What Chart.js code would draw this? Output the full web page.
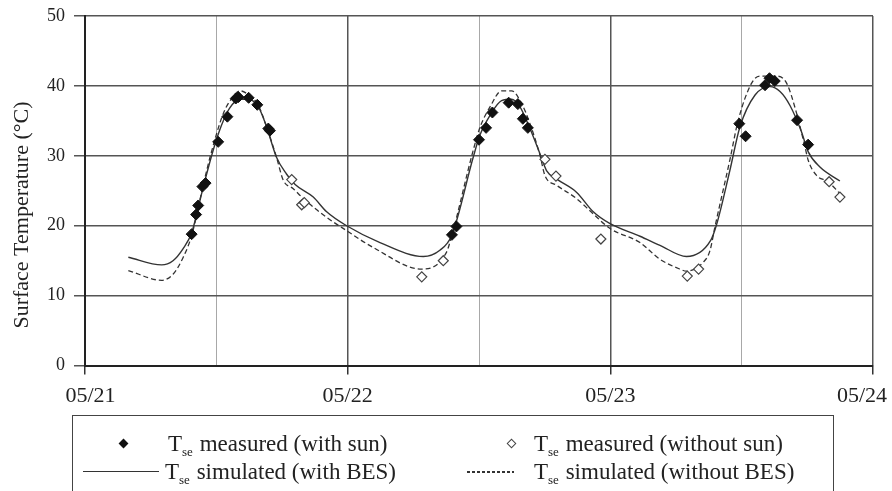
<!DOCTYPE html>
<html>
<head>
<meta charset="utf-8">
<script src="https://cdn.jsdelivr.net/npm/chart.js@4.4.1/dist/chart.umd.min.js"></script>
<style>
	html, body { margin: 0; padding: 0; background: #fff; overflow: hidden; }
	#wrap { position: relative; width: 892px; height: 491px; overflow: hidden; }
	#chart { position: absolute; left: 0; top: 0; }
	.legend { position: absolute; left: 72px; top: 415px; width: 762px; height: 120px; border: 1.5px solid #444; box-sizing: border-box; }
	.item { position: absolute; font-family: "Liberation Serif", "Times New Roman", serif; font-size: 23px; color: #222; white-space: nowrap; line-height: 22px; }
	.item sub { font-size: 13px; vertical-align: -5px; margin-right: 1px; }
	.mark { position: absolute; width: 7px; height: 7px; transform: rotate(45deg); box-sizing: border-box; }
	.solid { position: absolute; height: 0; border-top: 1.5px solid #333; }
	.dashed { position: absolute; height: 1.5px; background: repeating-linear-gradient(to right, #333 0 3px, transparent 3px 5px); }
</style>
</head>
<body>
<div id="wrap">
	<canvas id="chart" width="892" height="491"></canvas>
	<div class="legend">
		<div class="mark" style="left:47px; top:24px; background:#111;"></div>
		<div class="item" style="left:95px; top:17px;">T<sub>se</sub> measured (with sun)</div>
		<div class="mark" style="left:435px; top:24px; background:#fff; border:1px solid #444;"></div>
		<div class="item" style="left:461px; top:17px;">T<sub>se</sub> measured (without sun)</div>
		<div class="solid" style="left:10px; top:55px; width:76px;"></div>
		<div class="item" style="left:92px; top:45px;">T<sub>se</sub> simulated (with BES)</div>
		<div class="dashed" style="left:394px; top:55px; width:47px;"></div>
		<div class="item" style="left:461px; top:45px;">T<sub>se</sub> simulated (without BES)</div>
	</div>
</div>
<script>
// x values are days of May (21.5 = noon on 05/21)
const xTickLabels = ["05/21", "05/22", "05/23", "05/24"];
const yTitle = "Surface Temperature (\u00B0C)";

const sunX = [21.406, 21.423, 21.431, 21.447, 21.459, 21.507, 21.542, 21.574, 21.584, 21.623, 21.656, 21.698, 21.704,
	22.397, 22.414, 22.500, 22.527, 22.551, 22.613, 22.648, 22.667, 22.686,
	23.491, 23.515, 23.589, 23.606, 23.626, 23.711, 23.753];
const sunY = [18.8, 21.6, 22.9, 25.6, 26.1, 32.0, 35.6, 38.2, 38.4, 38.3, 37.3, 33.9, 33.6,
	18.7, 19.9, 32.3, 34.0, 36.2, 37.6, 37.4, 35.3, 34.0,
	34.6, 32.8, 40.1, 41.1, 40.7, 35.1, 31.6];

const shadeX = [21.787, 21.825, 21.835, 22.282, 22.364, 22.751, 22.793, 22.964, 23.293, 23.336, 23.833, 23.874];
const shadeY = [26.6, 23.0, 23.3, 12.7, 15.0, 29.5, 27.1, 18.1, 12.8, 13.8, 26.3, 24.1];

const besX = [21.165, 21.292, 21.335, 21.373, 21.406, 21.45, 21.488, 21.52, 21.55, 21.59, 21.62, 21.66, 21.69,
	21.729, 21.767, 21.80, 21.869, 21.92, 21.996, 22.123, 22.288, 22.351, 22.396, 22.478, 22.504, 22.542,
	22.586, 22.624, 22.656, 22.694, 22.732, 22.757, 22.795, 22.871, 22.935, 22.999, 23.113, 23.189, 23.29,
	23.382, 23.404, 23.455, 23.493, 23.551, 23.608, 23.646, 23.684, 23.728, 23.753, 23.798, 23.874];
const besY = [15.5, 14.4, 15.0, 16.7, 19.0, 25.5, 30.8, 34.4, 36.8, 38.1, 38.1, 37.0, 34.3,
	29.8, 27.4, 25.9, 24.1, 22.0, 20.0, 17.6, 15.6, 16.5, 18.6, 29.8, 33.0, 35.8,
	37.9, 38.1, 37.0, 33.9, 30.3, 27.9, 26.7, 24.8, 22.0, 20.3, 18.5, 17.2, 15.6,
	17.9, 20.1, 27.9, 34.1, 38.7, 39.9, 39.2, 37.2, 33.4, 30.6, 28.4, 26.4];

const noBesX = [21.165, 21.292, 21.336, 21.374, 21.406, 21.45, 21.476, 21.526, 21.56, 21.59, 21.62, 21.66, 21.69,
	21.729, 21.755, 21.793, 21.831, 21.92, 21.996, 22.097, 22.282, 22.376, 22.395, 22.478, 22.504, 22.542,
	22.586, 22.624, 22.662, 22.694, 22.732, 22.751, 22.795, 22.871, 22.935, 22.999, 23.113, 23.189, 23.265,
	23.29, 23.354, 23.379, 23.398, 23.455, 23.487, 23.538, 23.569, 23.633, 23.671, 23.709, 23.741, 23.753,
	23.785, 23.829, 23.874];
const noBesY = [13.6, 12.2, 13.1, 15.5, 18.6, 25.8, 29.8, 36.0, 38.3, 39.3, 38.8, 37.2, 34.3,
	29.8, 26.5, 25.3, 23.9, 21.2, 19.3, 16.9, 13.8, 16.2, 18.4, 30.8, 34.1, 37.0,
	39.3, 39.3, 37.5, 34.6, 30.1, 27.2, 25.8, 23.9, 21.7, 19.6, 17.6, 15.2, 13.8,
	13.5, 14.8, 16.4, 19.8, 29.4, 35.1, 40.4, 41.4, 41.4, 40.4, 36.1, 31.3, 29.4,
	27.2, 26.3, 24.6];

const toPoints = (xs, ys) => xs.map((x, i) => ({ x: x, y: ys[i] }));
const serif = "'Liberation Serif', 'Times New Roman', serif";

// first and last date labels sit slightly inside the plot, like the original
const xLabel = (v) => {
	if (!Number.isInteger(v)) return "";
	const txt = xTickLabels[v - 21];
	if (v === 21) return "  " + txt;
	if (v === 24) return txt + "    ";
	return txt;
};

const yTitlePlugin = {
	id: "yTitle",
	afterDraw(chart) {
		const ctx = chart.ctx;
		ctx.save();
		ctx.translate(22, 215);
		ctx.rotate(-Math.PI / 2);
		ctx.font = "22px " + serif;
		ctx.fillStyle = "#222";
		ctx.textAlign = "center";
		ctx.textBaseline = "middle";
		ctx.fillText(yTitle, 0, 0);
		ctx.restore();
	},
};

new Chart(document.getElementById("chart"), {
	type: "scatter",
	data: {
		datasets: [
			{
				label: "measured (with sun)",
				data: toPoints(sunX, sunY),
				pointStyle: "rectRot",
				pointRadius: 5.5,
				pointBackgroundColor: "#111",
				pointBorderColor: "#111",
				pointBorderWidth: 1,
				order: 0,
			},
			{
				label: "measured (without sun)",
				data: toPoints(shadeX, shadeY),
				pointStyle: "rectRot",
				pointRadius: 5,
				pointBackgroundColor: "#fff",
				pointBorderColor: "#444",
				pointBorderWidth: 1.2,
				order: 0,
			},
			{
				label: "simulated (with BES)",
				data: toPoints(besX, besY),
				showLine: true,
				pointRadius: 0,
				borderColor: "#333",
				borderWidth: 1.4,
				cubicInterpolationMode: "monotone",
				order: 1,
			},
			{
				label: "simulated (without BES)",
				data: toPoints(noBesX, noBesY),
				showLine: true,
				pointRadius: 0,
				borderColor: "#333",
				borderWidth: 1.3,
				borderDash: [5, 3],
				cubicInterpolationMode: "monotone",
				order: 1,
			},
		],
	},
	options: {
		responsive: false,
		animation: false,
		devicePixelRatio: 1,
		layout: { padding: { left: 38, right: 19, top: 16, bottom: 74 } },
		plugins: {
			legend: { display: false },
			tooltip: { enabled: false },
		},
		scales: {
			x: {
				type: "linear",
				min: 21,
				max: 24,
				afterFit: (scale) => {
					scale.paddingLeft = 0;
					scale.paddingRight = 0;
				},
				ticks: {
					stepSize: 0.5,
					autoSkip: false,
					maxRotation: 0,
					padding: 8,
					color: "#222",
					font: { family: serif, size: 22 },
					callback: xLabel,
				},
				grid: {
					color: (c) => (Number.isInteger(c.tick.value) ? "#555" : "#a8a8a8"),
					lineWidth: (c) => (Number.isInteger(c.tick.value) ? 1.5 : 1),
					tickColor: (c) => (Number.isInteger(c.tick.value) ? "#333" : "rgba(0,0,0,0)"),
					tickLength: 9,
				},
				border: { color: "#222", width: 2 },
			},
			y: {
				min: 0,
				max: 50,
				afterFit: (scale) => {
					scale.paddingTop = 0;
					scale.paddingBottom = 0;
				},
				ticks: {
					stepSize: 10,
					padding: 9,
					color: "#222",
					font: { family: serif, size: 18 },
				},
				grid: {
					color: "#555",
					lineWidth: 1.5,
					tickLength: 11,
				},
				border: { color: "#222", width: 2 },
			},
		},
	},
	plugins: [yTitlePlugin],
});
</script>
</body>
</html>
